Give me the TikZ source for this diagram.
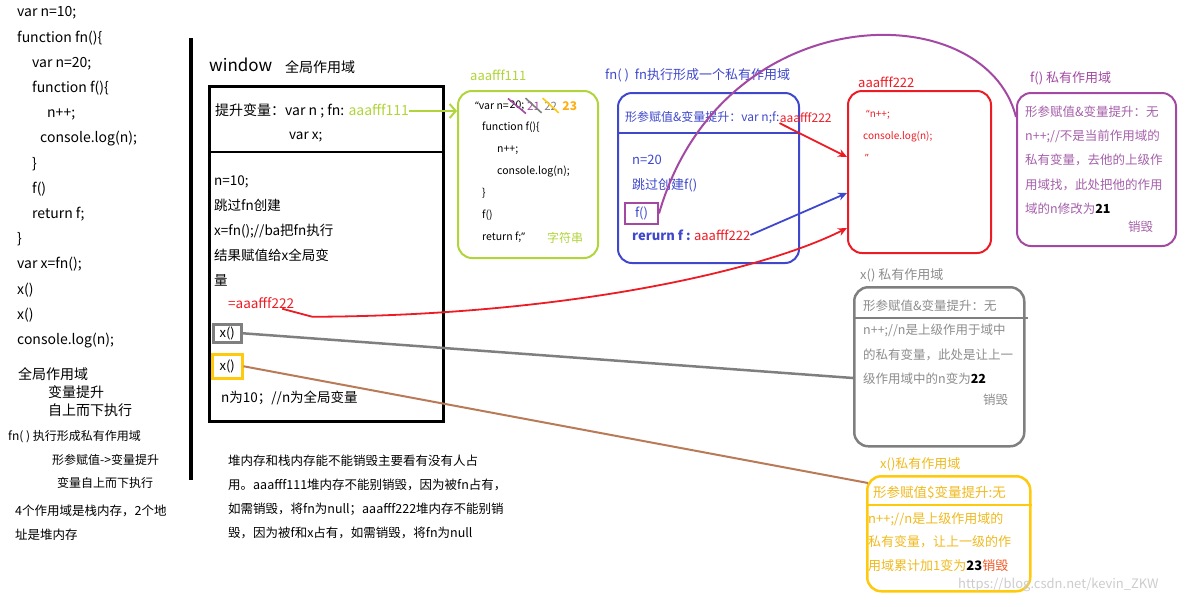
\documentclass[tikz,border=0pt]{standalone}
\usepackage{fontspec}
\setmainfont{Noto Sans CJK SC}
\newfontfamily\qfont{Noto Sans}
\usepackage{tikz}
\usetikzlibrary{arrows.meta,positioning}
\definecolor{limecol}{RGB}{176,212,58}
\definecolor{bluecol}{RGB}{63,72,204}
\definecolor{redcol}{RGB}{237,28,36}
\definecolor{purplecol}{RGB}{163,73,164}
\definecolor{purpletxt}{RGB}{165,95,170}
\definecolor{graycol}{RGB}{127,127,127}
\definecolor{graytxt}{RGB}{140,140,140}
\definecolor{goldcol}{RGB}{255,201,14}
\definecolor{goldtxt}{RGB}{240,185,30}
\definecolor{browncol}{RGB}{185,122,87}
\definecolor{orangecol}{RGB}{255,175,20}
\definecolor{killcol}{RGB}{240,90,40}
\newcommand{\fsz}[2]{\fontsize{#1}{#2}\selectfont}
\newcommand{\oq}{{\qfont “}}
\newcommand{\cq}{{\qfont ”}}
\tikzset{
  scopebox/.style={draw, rounded corners=14pt, line width=2pt,
                   anchor=north west, inner sep=0pt},
  txt/.style={anchor=north west, align=left, inner sep=0pt},
  lbl/.style={anchor=west, inner sep=0pt},
  arr/.style={-{Stealth[length=9pt,width=8pt]}, line width=1.8pt},
}
\begin{document}
\begin{tikzpicture}[x=1pt, y=-1pt]
  \useasboundingbox (0,0) rectangle (1198,606);
  % source code on the left
  \node[txt, font=\fsz{14}{25.2}] (code) at (17,6.5)
    {var n=10;\\function fn()\{\\\hspace*{15pt}var n=20;\\\hspace*{15pt}function f()\{\\
     \hspace*{30pt}n++;\\\hspace*{23pt}console.log(n);\\\hspace*{15pt}\}\\\hspace*{15pt}f()\\
     \hspace*{15pt}return f;\\\}\\var x=fn();\\x()\\x()\\console.log(n);};
  \node[txt, font=\fsz{14}{18}] (note1) at (18,367.5)
    {全局作用域\\\hspace*{30pt}变量提升\\\hspace*{30pt}自上而下执行};
  \node[txt, font=\fsz{12}{23.5}] (note2) at (8,430.5)
    {fn( ) 执行形成私有作用域\\\hspace*{44pt}形参赋值->变量提升\\\hspace*{49pt}变量自上而下执行};
  \node[txt, font=\fsz{12.5}{24}] (note3) at (15,505)
    {4个作用域是栈内存，2个地\\址是堆内存};
  \draw[line width=4pt] (191,38) -- (191,480);

  % window: global scope
  \node[lbl, font=\fsz{17}{20}] (wlabel) at (209,65) {window};
  \node[lbl, font=\fsz{14}{16}] (wscope) at (285,67) {全局作用域};
  \node[draw, line width=2.5pt, anchor=north west, inner sep=0pt,
        minimum width=234pt, minimum height=335pt] (win) at (208,85) {};
  \draw[line width=2.5pt] ([yshift=-67pt]win.north west) -- ([yshift=-67pt]win.north east);
  \node[lbl, font=\fsz{14}{16}] (hoist) at (215,111)
    {提升变量：var n ; fn: \textcolor{limecol}{aaafff111}};
  \node[lbl, font=\fsz{13.5}{16}] (varx) at (289,137) {var x;};
  \node[txt, font=\fsz{13.5}{25.2}] (wbody) at (214,175)
    {n=10;\\跳过fn创建\\x=fn();//ba把fn执行\\结果赋值给x全局变\\量};
  \node[lbl, text=redcol, font=\fsz{13.5}{16}] (eqaddr) at (228,303) {=aaafff222};
  \node[draw=graycol, line width=2.5pt, anchor=north west, inner sep=0pt,
        minimum width=28pt, minimum height=18pt, font=\fsz{13}{15}] (gx) at (212,323) {x()};
  \node[draw=goldcol, line width=2.5pt, anchor=north west, inner sep=0pt,
        minimum width=30pt, minimum height=24pt, font=\fsz{13}{15}] (yx) at (211,353) {x()};
  \node[lbl, font=\fsz{13.5}{16}] (nten) at (221,398) {n为10；//n为全局变量};

  % heap aaafff111
  \node[lbl, text=limecol, font=\fsz{13}{15}] (l111) at (470,75) {aaafff111};
  \node[scopebox, draw=limecol, minimum width=140pt, minimum height=167pt] (str111) at (457,90) {};
  \node[lbl, font=\fsz{10.5}{12}] (vline) at (475,106) {\oq var n=};
  \node[right=0pt of vline, inner sep=0.5pt, font=\fsz{10.5}{12}] (v20) {20;};
  \node[right=1.5pt of v20, inner sep=0.5pt, text=purplecol, font=\fsz{11.5}{12}] (v21) {21};
  \node[right=3pt of v21, inner sep=0.5pt, text=graycol, font=\fsz{11.5}{12}] (v22) {22};
  \node[right=4pt of v22, inner sep=0.5pt, text=orangecol, font=\fsz{12}{12}\bfseries] (v23) {23};
  \draw[purplecol, line width=1.6pt] ([shift={(-1,-2)}]v20.north west) -- ([shift={(1,2)}]v20.south east);
  \draw[graycol, line width=1.6pt] ([shift={(-1,-3)}]v21.north west) -- ([shift={(1,2)}]v21.south east);
  \draw[goldcol, line width=1.6pt] ([shift={(-1,-3)}]v22.north west) -- ([shift={(1,2)}]v22.south east);
  \node[txt, font=\fsz{10.5}{22}] (fnsrc) at (482,121.5)
    {function f()\{\\\hspace*{15pt}n++;\\\hspace*{15pt}console.log(n);\\\}\\f()\\return f;\cq};
  \node[lbl, text=limecol, font=\fsz{12}{14}] (strtag) at (547,238) {字符串};

  % fn() private scope
  \node[lbl, text=bluecol, font=\fsz{13}{15}] (lfn) at (605,75) {fn( )\ \ fn执行形成一个私有作用域};
  \node[scopebox, draw=bluecol, minimum width=181pt, minimum height=170pt] (fnbox) at (617,92) {};
  \draw[bluecol, line width=2pt] ([yshift=-41pt]fnbox.north west) -- ([yshift=-41pt]fnbox.north east);
  \node[lbl, text=bluecol, font=\fsz{12}{14}] (fnhead) at (625,118) {形参赋值\&变量提升：var n;f:};
  \node[right=0pt of fnhead, inner sep=0pt, text=redcol, font=\fsz{12}{14}] (fnaddr) {aaafff222};
  \node[txt, text=bluecol, font=\fsz{13}{25}] (fnbody) at (632,155) {n=20\\跳过创建f()};
  \node[draw=purplecol, line width=2pt, anchor=north west, inner sep=0pt, text=bluecol,
        minimum width=33pt, minimum height=21pt, font=\fsz{13}{15}] (fcall) at (624,202) {f()};
  \node[lbl, text=bluecol, font=\fsz{13}{15}\bfseries] (ret) at (632,235) {rerurn f :};
  \node[right=3pt of ret, inner sep=0pt, text=redcol, font=\fsz{13}{15}] (retaddr) {aaafff222};

  % heap aaafff222
  \node[lbl, text=redcol, font=\fsz{13}{15}] (l222) at (858,82) {aaafff222};
  \node[scopebox, draw=redcol, minimum width=143pt, minimum height=162pt] (heap) at (847,90) {};
  \node[txt, text=redcol, font=\fsz{10}{22}] (fsrc) at (863,110)
    {\hspace*{3pt}\oq n++;\\console.log(n);\\\hspace*{2pt}\cq};

  % f() private scope
  \node[lbl, text=purplecol, font=\fsz{13}{15}] (lf) at (1030,78) {f() 私有作用域};
  \node[scopebox, draw=purplecol, minimum width=159pt, minimum height=153pt] (fpriv) at (1016,92) {};
  \node[txt, text=purpletxt, font=\fsz{12.5}{24.3}] (fbody) at (1025,105.5)
    {形参赋值\&变量提升：无\\n++;//不是当前作用域的\\私有变量，去他的上级作\\用域找，此处把他的作用\\
     域的n修改为\textcolor{black}{\textbf{21}}};
  \node[lbl, text=purpletxt, font=\fsz{12.5}{15}] (fkill) at (1128,227) {销毁};

  % first x() private scope
  \node[lbl, text=graytxt, font=\fsz{13}{15}] (lxg) at (860,275) {x() 私有作用域};
  \node[scopebox, draw=graycol, line width=2.5pt, minimum width=170pt, minimum height=159pt] (xg) at (853,286) {};
  \draw[graycol, line width=2.5pt] ([yshift=-32pt]xg.north west) -- ([shift={(2,32)}]xg.north east);
  \node[txt, text=graytxt, font=\fsz{12.5}{24.5}] (xgbody) at (863,299.5)
    {形参赋值\&变量提升：无\\n++;//n是上级作用于域中\\的私有变量，此处是让上一\\
     级作用域中的n变为\textcolor{black}{\textbf{22}}};
  \node[lbl, text=graytxt, font=\fsz{12.5}{15}] (xgkill) at (983,400) {销毁};

  % second x() private scope
  \node[lbl, text=goldtxt, font=\fsz{13}{15}] (lxy) at (880,464) {x()私有作用域};
  \node[scopebox, draw=goldcol, line width=2.5pt, minimum width=163pt, minimum height=115pt] (xy) at (866,475) {};
  \draw[goldcol, line width=2.5pt] ([yshift=-30pt]xy.north west) -- ([yshift=-30pt]xy.north east);
  \node[lbl, text=goldtxt, font=\fsz{13.5}{15}] (xyhead) at (873,493) {形参赋值\$变量提升:无};
  \node[txt, text=goldtxt, font=\fsz{13}{23.5}] (xybody) at (868,512)
    {n++;//n是上级作用域的\\私有变量，让上一级的作\\
     用域累计加1变为\textcolor{black}{\textbf{23}}\textcolor{killcol}{销毁}};

  % remark under the window
  \node[txt, font=\fsz{12.5}{24.2}] (memo) at (228,454.5)
    {堆内存和栈内存能不能销毁主要看有没有人占\\用。aaafff111堆内存不能别销毁，因为被fn占有，\\
     如需销毁，将fn为null；aaafff222堆内存不能别销\\毁，因为被f和x占有，如需销毁，将fn为null};
  \node[lbl, text=gray!40, font=\fsz{13}{15}] (mark) at (958,585) {https://blog.csdn.net/kevin\_ZKW};

  % references
  \draw[limecol, line width=2pt, -{Straight Barb[length=6pt,width=14pt]}] (hoist.east) -- (hoist.east -| str111.west);
  \draw[arr, redcol] (fnaddr.south west) -- ([yshift=-67pt]heap.north west);
  \draw[arr, bluecol] (retaddr.east) -- ([yshift=-103pt]heap.north west);
  \draw[arr, redcol] ([xshift=-12pt]eqaddr.south east) -- ++(30,8)
    .. controls (560,316) and (760,272) .. ([yshift=-138pt]heap.north west);
  \draw[purplecol, line width=2pt] (fcall.east) .. controls (722,-4) and (985,-6) .. ([yshift=-25pt]fpriv.north west);
  \draw[graycol, line width=2.5pt] (gx.east) -- ([yshift=-92pt]xg.north west);
  \draw[browncol, line width=2pt] (yx.east) -- ([shift={(2,8)}]xy.north west);
\end{tikzpicture}
\end{document}
